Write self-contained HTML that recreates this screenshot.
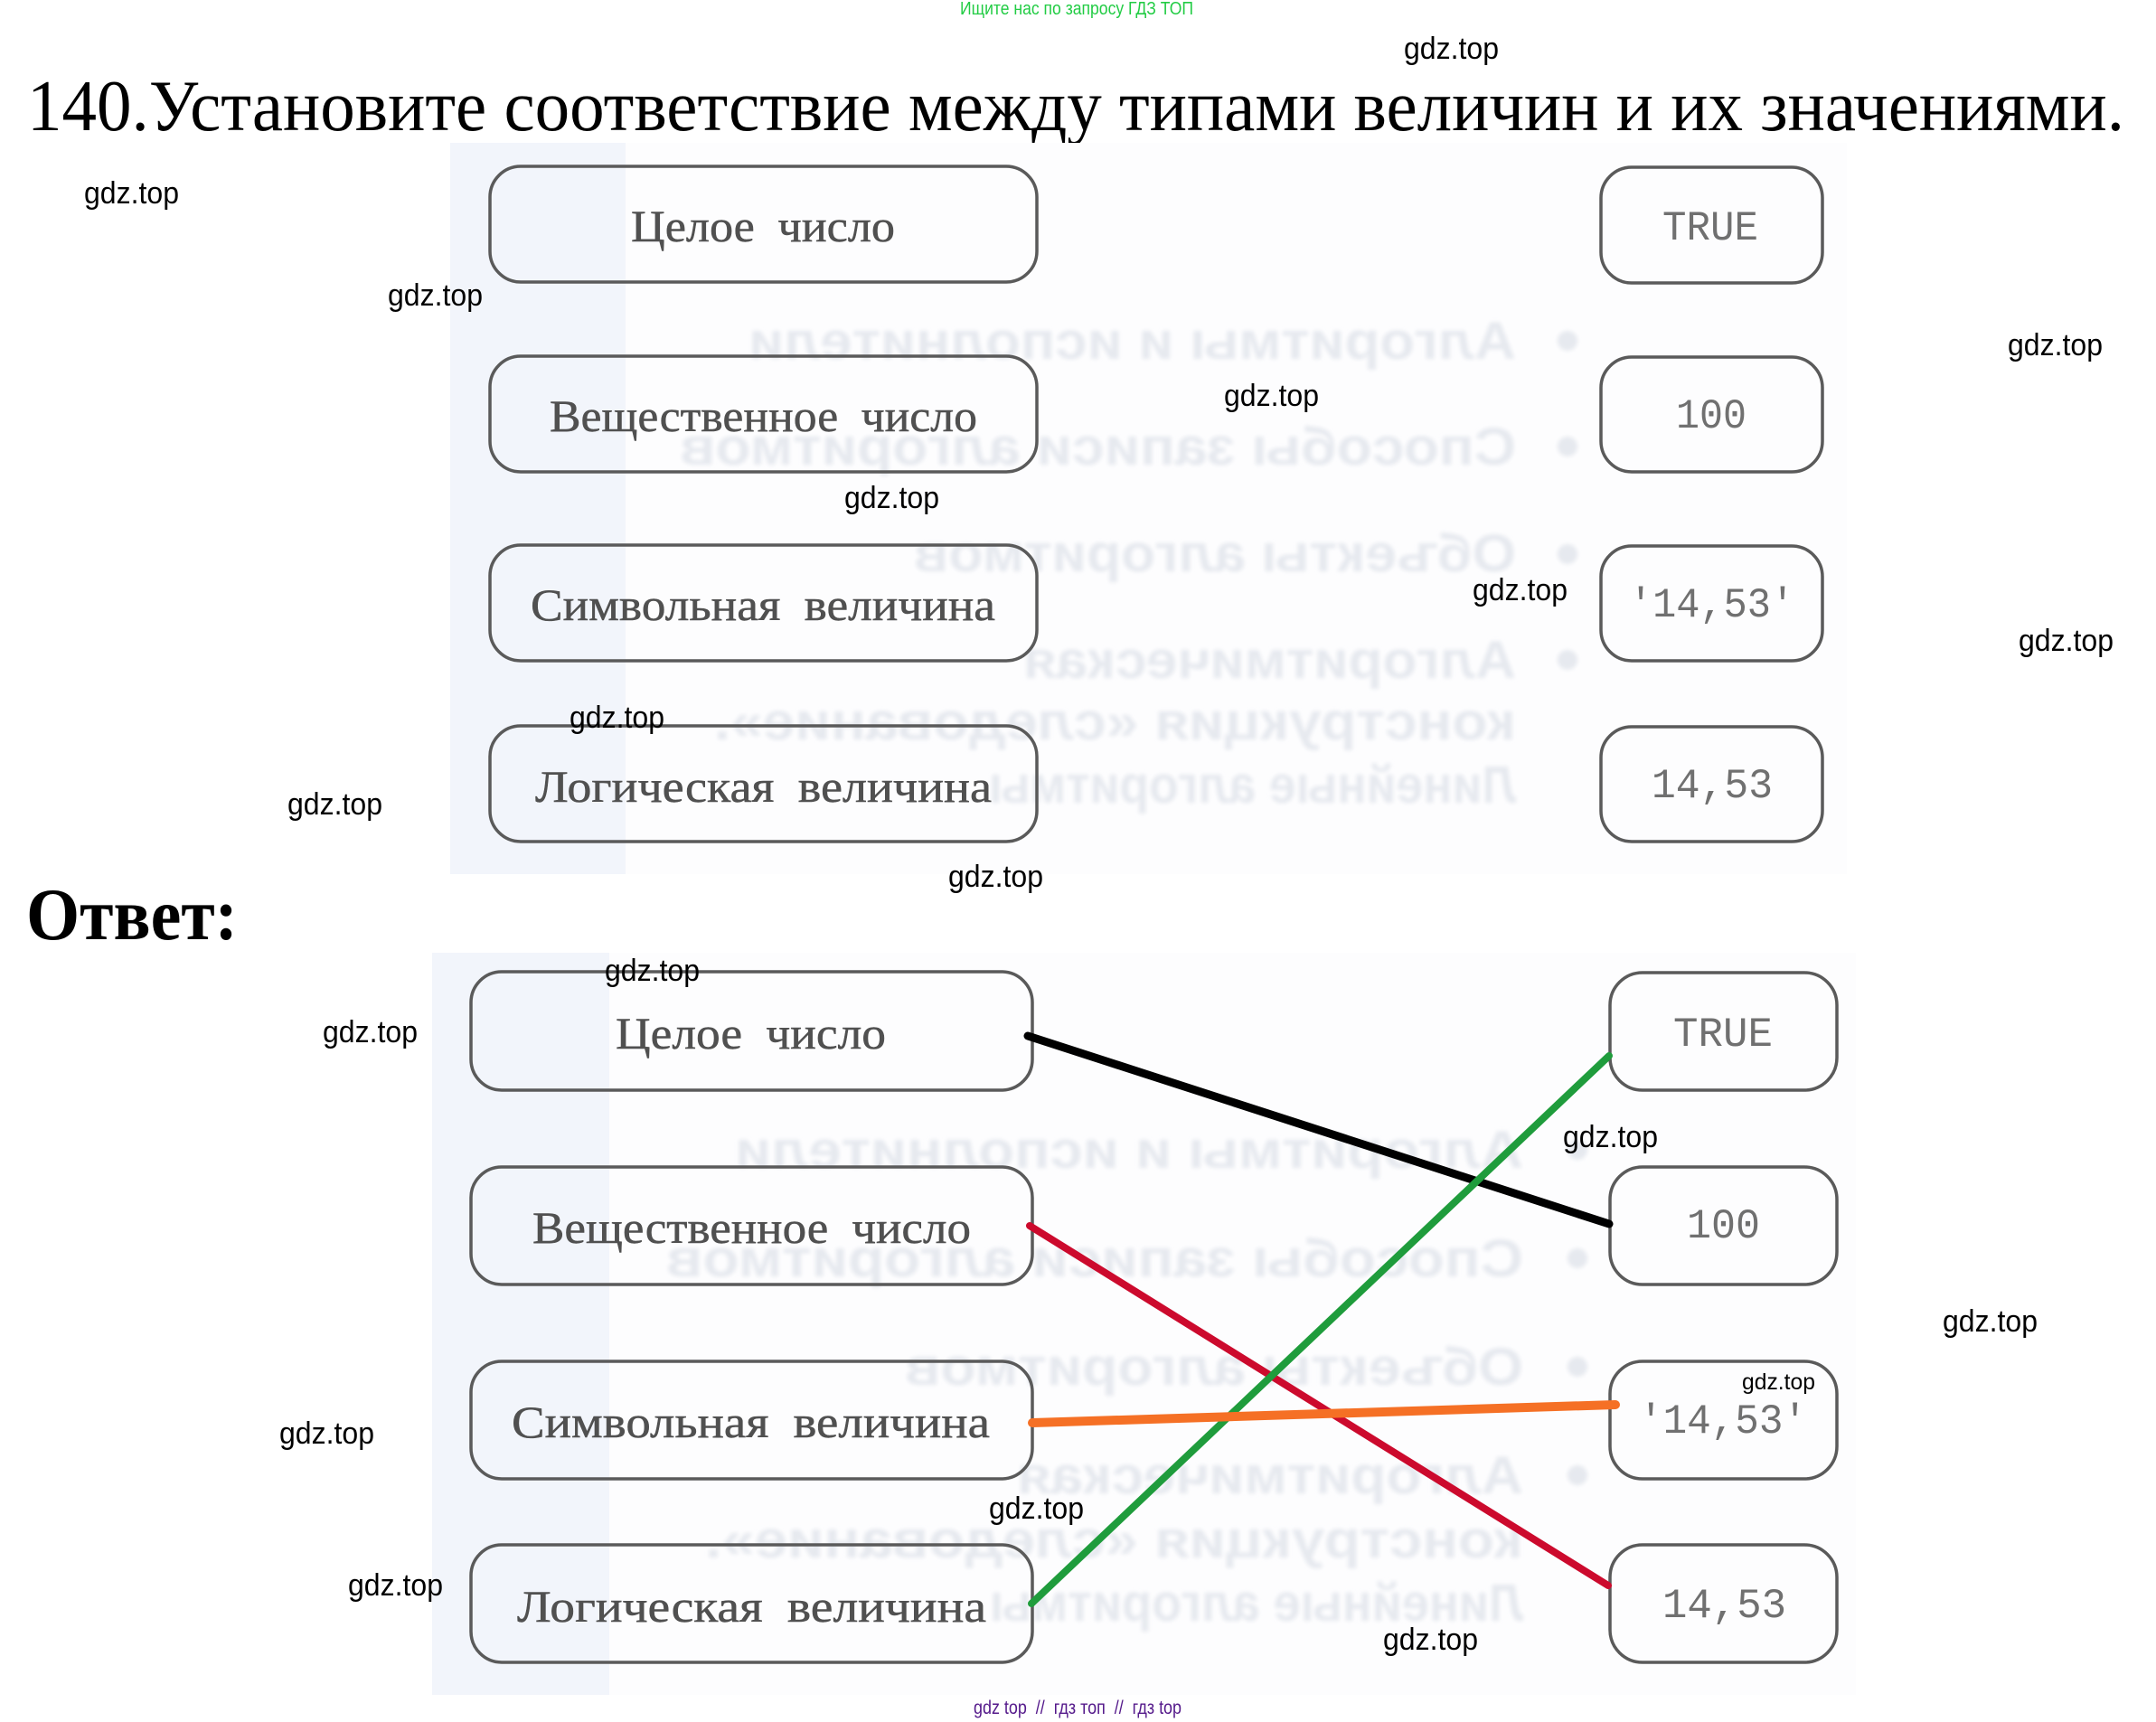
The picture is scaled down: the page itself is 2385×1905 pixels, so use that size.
<!DOCTYPE html>
<html lang="ru"><head><meta charset="utf-8"><title>140</title>
<style>html,body{margin:0;padding:0;background:#fff}svg{display:block}
.g{font:34px "Liberation Sans",sans-serif;fill:#000}
.b{font-family:"Liberation Serif",serif;font-size:50px;fill:#505050;word-spacing:12px;stroke:#505050;stroke-width:.5}
.m{font-family:"Liberation Mono",monospace;font-size:46px;fill:#707070}
.h{font:bold 58px "Liberation Sans",sans-serif;fill:#e6e9ef}
.r{fill:none;stroke:#5a5a5a;stroke-width:3.5}
</style></head><body>
<svg xmlns="http://www.w3.org/2000/svg" width="2385" height="1905" viewBox="0 0 2385 1905">
<defs><filter id="bl" x="-5%" y="-5%" width="110%" height="110%"><feGaussianBlur stdDeviation="2"/></filter></defs>
<rect width="2385" height="1905" fill="#fff"/>
<text x="1062" y="16" font-family="'Liberation Sans',sans-serif" font-size="20" fill="#22cc44" textLength="258" lengthAdjust="spacingAndGlyphs">Ищите нас по запросу ГДЗ ТОП</text>
<text x="30" y="144" font-family="'Liberation Serif',serif" font-size="80" fill="#000" textLength="2320" lengthAdjust="spacingAndGlyphs">140.Установите соответствие между типами величин и их значениями.</text>
<text x="29" y="1039" font-family="'Liberation Serif',serif" font-weight="bold" font-size="82" fill="#000" textLength="234" lengthAdjust="spacingAndGlyphs">Ответ:</text>

<!-- top panel -->
<rect x="498" y="158" width="1545" height="809" fill="#fdfdfe"/>
<rect x="498" y="158" width="194" height="809" fill="#f2f5fb"/>
<g filter="url(#bl)">
<text class="h" transform="translate(1677,397) scale(-1,1)" textLength="849" lengthAdjust="spacingAndGlyphs">Алгоритмы и исполнители</text>
<text class="h" transform="translate(1677,514) scale(-1,1)" textLength="925" lengthAdjust="spacingAndGlyphs">Способы записи алгоритмов</text>
<text class="h" transform="translate(1677,632) scale(-1,1)" textLength="666" lengthAdjust="spacingAndGlyphs">Объекты алгоритмов</text>
<text class="h" transform="translate(1677,750) scale(-1,1)" textLength="545" lengthAdjust="spacingAndGlyphs">Алгоритмическая</text>
<text class="h" transform="translate(1677,818) scale(-1,1)" textLength="887" lengthAdjust="spacingAndGlyphs">конструкция «следование».</text>
<text class="h" transform="translate(1677,888) scale(-1,1)" textLength="583" lengthAdjust="spacingAndGlyphs">Линейные алгоритмы</text>
<g fill="#e6e9ef"><circle cx="1734" cy="377" r="11"/><circle cx="1734" cy="494" r="11"/><circle cx="1734" cy="613" r="11"/><circle cx="1734" cy="730" r="11"/></g>
</g>
<rect class="r" x="542" y="184" width="605" height="128" rx="34"/>
<rect class="r" x="542" y="394" width="605" height="128" rx="34"/>
<rect class="r" x="542" y="603" width="605" height="128" rx="34"/>
<rect class="r" x="542" y="803" width="605" height="128" rx="34"/>
<rect class="r" x="1771" y="185" width="245" height="128" rx="34"/>
<rect class="r" x="1771" y="395" width="245" height="127" rx="34"/>
<rect class="r" x="1771" y="604" width="245" height="127" rx="34"/>
<rect class="r" x="1771" y="804" width="245" height="127" rx="34"/>
<text class="b" x="698" y="267" textLength="292" lengthAdjust="spacingAndGlyphs">Целое число</text>
<text class="b" x="608" y="477" textLength="473" lengthAdjust="spacingAndGlyphs">Вещественное число</text>
<text class="b" x="587" y="686" textLength="514" lengthAdjust="spacingAndGlyphs">Символьная величина</text>
<text class="b" x="592" y="887" textLength="505" lengthAdjust="spacingAndGlyphs">Логическая величина</text>
<text class="m" x="1839" y="265" textLength="106" lengthAdjust="spacingAndGlyphs">TRUE</text>
<text class="m" x="1854" y="473" textLength="78" lengthAdjust="spacingAndGlyphs">100</text>
<text class="m" x="1802" y="682" textLength="183" lengthAdjust="spacingAndGlyphs">'14,53'</text>
<text class="m" x="1827" y="882" textLength="134" lengthAdjust="spacingAndGlyphs">14,53</text>

<!-- bottom panel -->
<rect x="478" y="1054" width="1575" height="821" fill="#fdfdfe"/>
<rect x="478" y="1054" width="196" height="821" fill="#f2f5fb"/>
<g filter="url(#bl)">
<text class="h" transform="translate(1685,1292) scale(-1,1)" textLength="872" lengthAdjust="spacingAndGlyphs">Алгоритмы и исполнители</text>
<text class="h" transform="translate(1685,1412) scale(-1,1)" textLength="948" lengthAdjust="spacingAndGlyphs">Способы записи алгоритмов</text>
<text class="h" transform="translate(1685,1532) scale(-1,1)" textLength="684" lengthAdjust="spacingAndGlyphs">Объекты алгоритмов</text>
<text class="h" transform="translate(1685,1652) scale(-1,1)" textLength="560" lengthAdjust="spacingAndGlyphs">Алгоритмическая</text>
<text class="h" transform="translate(1685,1723) scale(-1,1)" textLength="905" lengthAdjust="spacingAndGlyphs">конструкция «следование».</text>
<text class="h" transform="translate(1685,1793) scale(-1,1)" textLength="590" lengthAdjust="spacingAndGlyphs">Линейные алгоритмы</text>
<g fill="#e6e9ef"><circle cx="1745" cy="1272" r="11"/><circle cx="1745" cy="1392" r="11"/><circle cx="1745" cy="1512" r="11"/><circle cx="1745" cy="1632" r="11"/></g>
</g>
<rect class="r" x="521" y="1075" width="621" height="131" rx="34"/>
<rect class="r" x="521" y="1291" width="621" height="130" rx="34"/>
<rect class="r" x="521" y="1506" width="621" height="130" rx="34"/>
<rect class="r" x="521" y="1709" width="621" height="130" rx="34"/>
<rect class="r" x="1781" y="1076" width="251" height="130" rx="36"/>
<rect class="r" x="1781" y="1291" width="251" height="130" rx="36"/>
<rect class="r" x="1781" y="1506" width="251" height="130" rx="36"/>
<rect class="r" x="1781" y="1709" width="251" height="130" rx="36"/>
<text class="b" x="681" y="1160" textLength="299" lengthAdjust="spacingAndGlyphs">Целое число</text>
<text class="b" x="589" y="1375" textLength="485" lengthAdjust="spacingAndGlyphs">Вещественное число</text>
<text class="b" x="566" y="1590" textLength="529" lengthAdjust="spacingAndGlyphs">Символьная величина</text>
<text class="b" x="572" y="1794" textLength="519" lengthAdjust="spacingAndGlyphs">Логическая величина</text>
<text class="m" x="1851" y="1157" textLength="110" lengthAdjust="spacingAndGlyphs">TRUE</text>
<text class="m" x="1866" y="1369" textLength="81" lengthAdjust="spacingAndGlyphs">100</text>
<text class="m" x="1813" y="1585" textLength="186" lengthAdjust="spacingAndGlyphs">'14,53'</text>
<text class="m" x="1839" y="1789" textLength="137" lengthAdjust="spacingAndGlyphs">14,53</text>

<!-- connectors -->
<g fill="none" stroke-linecap="round">
<line x1="1137" y1="1146" x2="1780" y2="1354" stroke="#000" stroke-width="9"/>
<line x1="1139" y1="1356" x2="1779" y2="1754" stroke="#cc0a2d" stroke-width="8"/>
<line x1="1141" y1="1774" x2="1780" y2="1168" stroke="#1f9c3c" stroke-width="8"/>
<line x1="1142" y1="1574" x2="1787" y2="1554" stroke="#f57025" stroke-width="10"/>
</g>

<!-- watermarks -->
<text class="g" x="1553" y="65" textLength="105" lengthAdjust="spacingAndGlyphs">gdz.top</text>
<text class="g" x="93" y="225" textLength="105" lengthAdjust="spacingAndGlyphs">gdz.top</text>
<text class="g" x="429" y="338" textLength="105" lengthAdjust="spacingAndGlyphs">gdz.top</text>
<text class="g" x="2221" y="393" textLength="105" lengthAdjust="spacingAndGlyphs">gdz.top</text>
<text class="g" x="1354" y="449" textLength="105" lengthAdjust="spacingAndGlyphs">gdz.top</text>
<text class="g" x="934" y="562" textLength="105" lengthAdjust="spacingAndGlyphs">gdz.top</text>
<text class="g" x="1629" y="664" textLength="105" lengthAdjust="spacingAndGlyphs">gdz.top</text>
<text class="g" x="2233" y="720" textLength="105" lengthAdjust="spacingAndGlyphs">gdz.top</text>
<text class="g" x="630" y="805" textLength="105" lengthAdjust="spacingAndGlyphs">gdz.top</text>
<text class="g" x="318" y="901" textLength="105" lengthAdjust="spacingAndGlyphs">gdz.top</text>
<text class="g" x="1049" y="981" textLength="105" lengthAdjust="spacingAndGlyphs">gdz.top</text>
<text class="g" x="669" y="1085" textLength="105" lengthAdjust="spacingAndGlyphs">gdz.top</text>
<text class="g" x="357" y="1153" textLength="105" lengthAdjust="spacingAndGlyphs">gdz.top</text>
<text class="g" x="1729" y="1269" textLength="105" lengthAdjust="spacingAndGlyphs">gdz.top</text>
<text class="g" x="2149" y="1473" textLength="105" lengthAdjust="spacingAndGlyphs">gdz.top</text>
<text class="g" x="309" y="1597" textLength="105" lengthAdjust="spacingAndGlyphs">gdz.top</text>
<text class="g" x="1094" y="1680" textLength="105" lengthAdjust="spacingAndGlyphs">gdz.top</text>
<text class="g" x="385" y="1765" textLength="105" lengthAdjust="spacingAndGlyphs">gdz.top</text>
<text class="g" x="1530" y="1825" textLength="105" lengthAdjust="spacingAndGlyphs">gdz.top</text>
<text x="1927" y="1537" font-family="'Liberation Sans',sans-serif" font-size="25" fill="#000" textLength="81" lengthAdjust="spacingAndGlyphs">gdz.top</text>
<text x="1077" y="1896" font-family="'Liberation Sans',sans-serif" font-size="21" fill="#551a8b" textLength="230" lengthAdjust="spacingAndGlyphs" xml:space="preserve">gdz top  //  гдз топ  //  гдз top</text>
</svg>
</body></html>
